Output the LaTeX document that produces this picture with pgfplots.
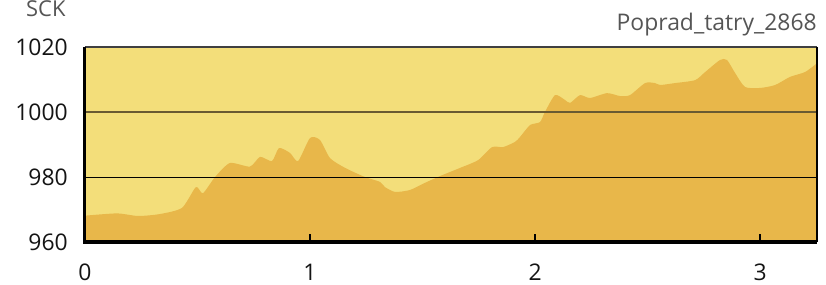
\documentclass[border=0pt]{standalone}
\usepackage{fontspec}
\setmainfont{Open Sans}
\usepackage{pgfplots}
\pgfplotsset{compat=1.18}
\definecolor{bgY}{RGB}{243,222,122}
\definecolor{areaY}{RGB}{232,183,74}
\definecolor{gridA}{RGB}{105,90,50}
\definecolor{txtG}{RGB}{85,85,85}
\begin{document}
\begin{tikzpicture}
\begin{axis}[
  at={(0,0)}, anchor=south west,
  scale only axis, width=732bp, height=195bp,
  xmin=0, xmax=3.253, ymin=960, ymax=1020,
  axis line style={draw=none},
  axis background/.style={fill=bgY},
  xtick={0,1,2,3}, ytick={960,980,1000,1020},
  xtick pos=left, ytick pos=left,
  xtick style={draw=none},
  ytick style={draw=none},
  major tick length=0pt,
  ticklabel style={font=\fontsize{23}{27}\selectfont, text=black!92},
  /pgf/number format/assume math mode=true,
  /pgf/number format/1000 sep={},
  yticklabel style={anchor=east, inner sep=0pt, xshift=-17bp},
  xticklabel style={anchor=north, inner sep=0pt, yshift=-22bp},
  clip=false,
]
\addplot[fill=areaY, draw=none, smooth, tension=0.4] coordinates {
(0,968.1) (0.142,968.8) (0.236,968.0) (0.333,968.6) (0.431,970.5)
(0.493,976.9) (0.524,975.0) (0.578,980.0) (0.644,984.3) (0.733,983.2)
(0.778,986.2) (0.831,984.9) (0.862,988.9) (0.911,987.4) (0.947,984.9)
(1.0,992.0) (1.044,991.4) (1.089,985.8) (1.156,982.8) (1.244,980.0)
(1.311,978.5) (1.333,976.9) (1.378,975.4) (1.444,976.0) (1.511,978.2)
(1.578,980.3) (1.667,982.8) (1.747,985.2) (1.809,989.2) (1.858,989.2)
(1.911,990.8) (1.933,992.3) (1.978,996.0) (2.022,996.9) (2.044,1000.0)
(2.089,1005.2) (2.133,1003.7) (2.156,1002.8) (2.2,1005.2) (2.244,1004.3)
(2.32,1005.8) (2.378,1004.9) (2.422,1005.2) (2.489,1008.9) (2.533,1008.9)
(2.556,1008.3) (2.622,1008.9) (2.711,1009.8) (2.756,1012.3) (2.822,1016.0)
(2.853,1016.0) (2.889,1012.0) (2.933,1007.7) (3.0,1007.4) (3.067,1008.3)
(3.133,1010.8) (3.2,1012.3) (3.253,1015.0)
} \closedcycle;
\draw[black, line width=0.8bp] (rel axis cs:0,0.3333) -- (rel axis cs:1,0.3333);
\draw[gridA, line width=1.5bp] (rel axis cs:0,0.6667) -- (rel axis cs:1,0.6667);
\draw[black!75, line width=1.5bp] (rel axis cs:0,1) -- (rel axis cs:1,1);
\draw[black, line width=2bp] (rel axis cs:1,1) -- (rel axis cs:1,0);
\draw[black, line width=3bp] (rel axis cs:0,1) -- (rel axis cs:0,0) -- (rel axis cs:1,0);
\draw[black, line width=2bp] (axis cs:1,960) -- ([yshift=8bp]axis cs:1,960);
\draw[black, line width=2bp] (axis cs:2,960) -- ([yshift=8bp]axis cs:2,960);
\draw[black, line width=2bp] (axis cs:3,960) -- ([yshift=8bp]axis cs:3,960);
\node[anchor=base east, inner sep=0pt, text=txtG, font=\fontsize{23}{27}\selectfont]
  at ([yshift=16bp]rel axis cs:1,1) {Poprad\_tatry\_2868};
\node[anchor=base west, inner sep=0pt, text=txtG, font=\fontsize{22}{26}\selectfont]
  at ([xshift=-59bp, yshift=30bp]rel axis cs:0,1) {SCK};
\end{axis}
\pgfresetboundingbox
\path[use as bounding box] (-85bp,-43bp) rectangle (741bp,242bp);
\end{tikzpicture}
\end{document}
